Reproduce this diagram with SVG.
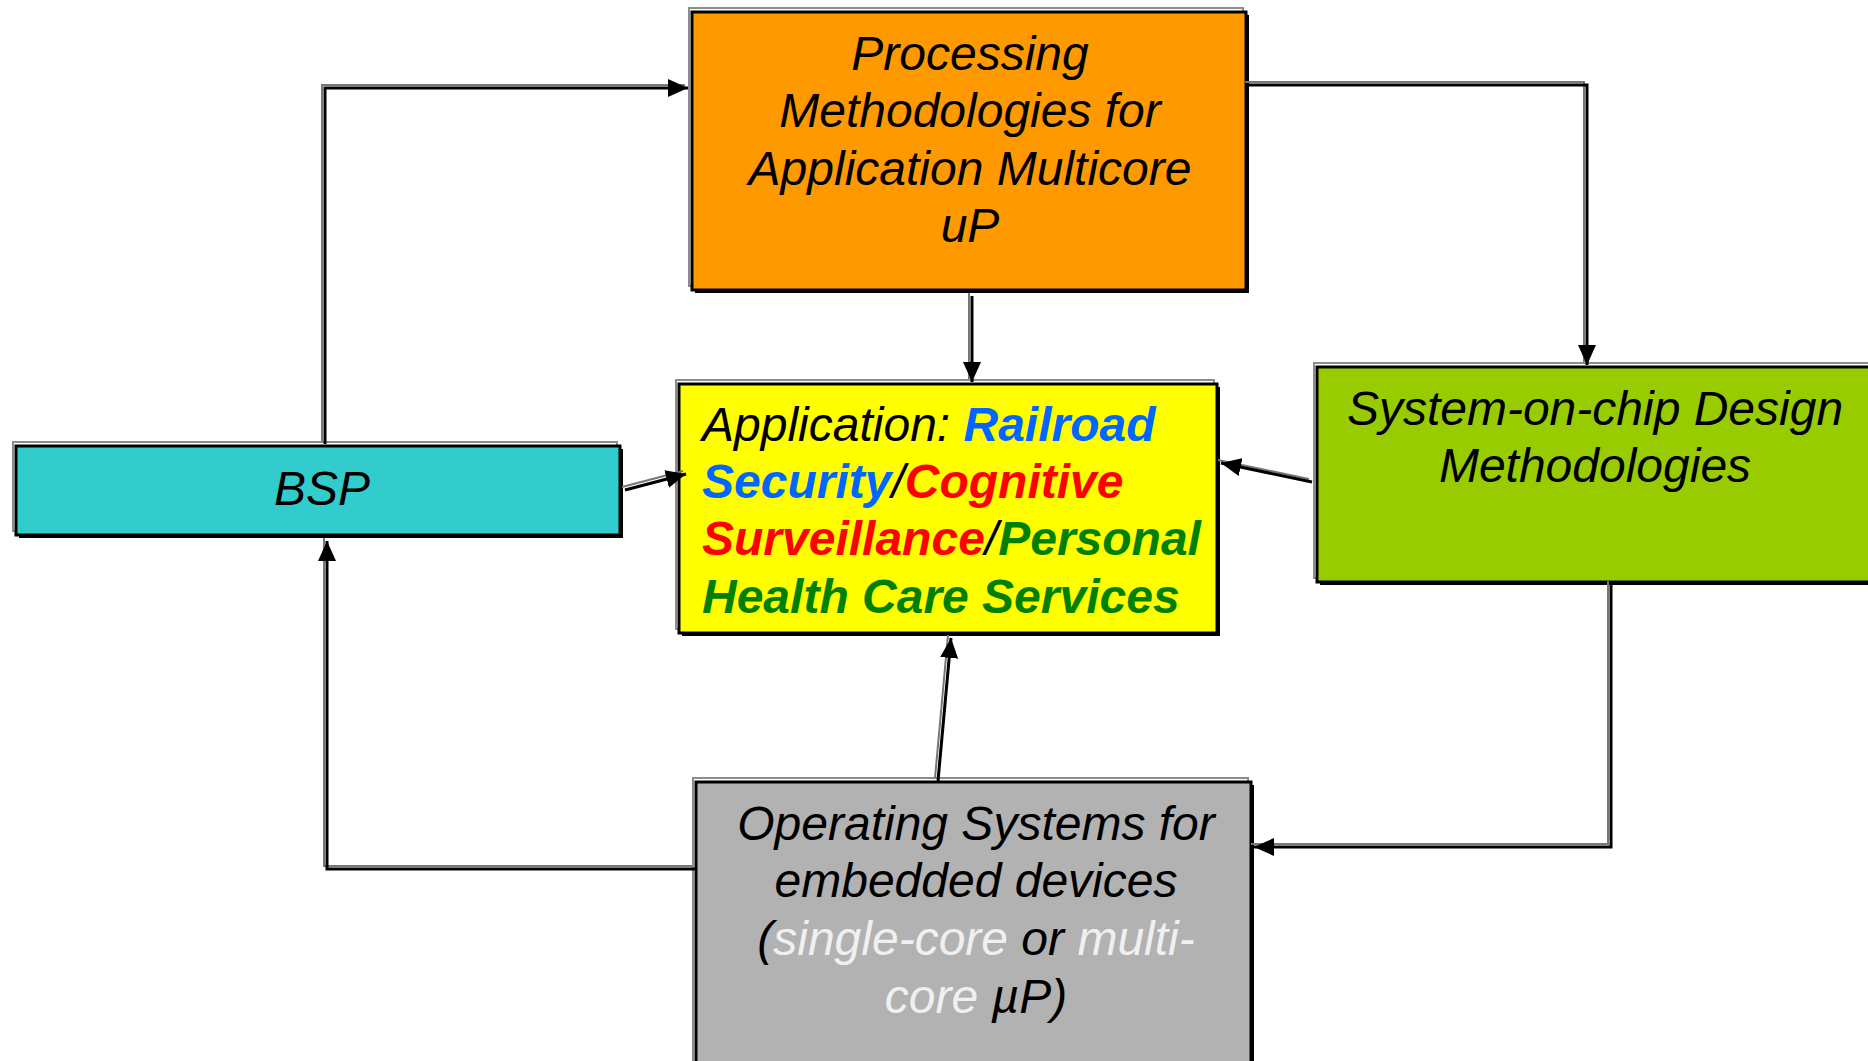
<svg xmlns="http://www.w3.org/2000/svg" xmlns:xlink="http://www.w3.org/1999/xlink" width="1868" height="1061" viewBox="0 0 1868 1061">
<style>
  .t { font-family: "Liberation Sans", Arial, sans-serif; font-size: 48px; font-style: italic; fill: #000; }
  .b { font-weight: bold; }
  .box { stroke: #000; stroke-width: 3; }
  .shadow { fill: #000; }
  .hl { fill: none; stroke: #8c8c8c; stroke-width: 2; }
  .wire { fill: none; stroke: #000; stroke-width: 3; }
  .wire2 { fill: none; stroke: #777; stroke-width: 2; }
  .blue { fill: #0066FF; }
  .red { fill: #FF0000; }
  .green { fill: #008000; }
  .light { fill: #F0F0F0; }
</style>
<defs>
  <marker id="ah" markerUnits="userSpaceOnUse" markerWidth="22" markerHeight="18" refX="20" refY="9" orient="auto">
    <path d="M0,0 L20,9 L0,18 Z" fill="#000"/>
  </marker>
  <path id="c1" d="M325,444 V88 H688"/>
  <path id="c2" d="M1248,85 H1587 V365"/>
  <path id="c3" d="M972,296 V382"/>
  <path id="c4" d="M1312,482 L1221,463"/>
  <path id="c5" d="M625,490 L686,474"/>
  <path id="c6" d="M938,781 L951,638"/>
  <path id="c7" d="M1611,584 V847 H1254"/>
  <path id="c8" d="M695,869 H327 V541"/>
</defs>
<rect width="1868" height="1061" fill="#fff"/>

<g id="processing">
  <rect class="hl" x="689" y="8" width="554" height="278"/>
  <rect class="shadow" x="695" y="15" width="554" height="278"/>
  <rect class="box" x="692" y="12" width="554" height="278" fill="#FF9900"/>
  <text class="t" text-anchor="middle" x="970" y="70">Processing</text>
  <text class="t" text-anchor="middle" x="970" y="127">Methodologies for</text>
  <text class="t" text-anchor="middle" x="970" y="185">Application Multicore</text>
  <text class="t" text-anchor="middle" x="970" y="242">uP</text>
</g>

<g id="application">
  <rect class="hl" x="676" y="380" width="538" height="249"/>
  <rect class="shadow" x="682" y="387" width="538" height="249"/>
  <rect class="box" x="679" y="384" width="538" height="249" fill="#FFFF00"/>
  <text class="t" x="702" y="441">Application: <tspan class="b blue">Railroad</tspan></text>
  <text class="t" x="702" y="498"><tspan class="b blue">Security</tspan>/<tspan class="b red">Cognitive</tspan></text>
  <text class="t" x="702" y="555"><tspan class="b red">Surveillance</tspan>/<tspan class="b green">Personal</tspan></text>
  <text class="t b green" x="702" y="613">Health Care Services</text>
</g>

<g id="bsp">
  <rect class="hl" x="13" y="442" width="604" height="89"/>
  <rect class="shadow" x="19" y="449" width="604" height="89"/>
  <rect class="box" x="16" y="446" width="604" height="89" fill="#33CCCC"/>
  <text class="t" text-anchor="middle" x="322" y="505">BSP</text>
</g>

<g id="soc">
  <rect class="hl" x="1314" y="363" width="570" height="215"/>
  <rect class="shadow" x="1320" y="370" width="570" height="215"/>
  <rect class="box" x="1317" y="367" width="570" height="215" fill="#99CC00"/>
  <text class="t" text-anchor="middle" x="1595" y="425">System-on-chip Design</text>
  <text class="t" text-anchor="middle" x="1595" y="482">Methodologies</text>
</g>

<g id="os">
  <rect class="hl" x="693" y="778" width="555" height="300"/>
  <rect class="shadow" x="699" y="785" width="555" height="300"/>
  <rect class="box" x="696" y="782" width="555" height="300" fill="#B2B2B2"/>
  <text class="t" text-anchor="middle" x="976" y="840">Operating Systems for</text>
  <text class="t" text-anchor="middle" x="976" y="897">embedded devices</text>
  <text class="t" text-anchor="middle" x="976" y="955">(<tspan class="light">single-core</tspan> or <tspan class="light">multi-</tspan></text>
  <text class="t" text-anchor="middle" x="976" y="1013"><tspan class="light">core</tspan> µP)</text>
</g>

<g id="connectors">
  <g transform="translate(-3,-3)">
    <use xlink:href="#c1" class="wire2"/>
    <use xlink:href="#c2" class="wire2"/>
    <use xlink:href="#c3" class="wire2"/>
    <use xlink:href="#c4" class="wire2"/>
    <use xlink:href="#c5" class="wire2"/>
    <use xlink:href="#c6" class="wire2"/>
    <use xlink:href="#c7" class="wire2"/>
    <use xlink:href="#c8" class="wire2"/>
  </g>
  <use xlink:href="#c1" class="wire" marker-end="url(#ah)"/>
  <use xlink:href="#c2" class="wire" marker-end="url(#ah)"/>
  <use xlink:href="#c3" class="wire" marker-end="url(#ah)"/>
  <use xlink:href="#c4" class="wire" marker-end="url(#ah)"/>
  <use xlink:href="#c5" class="wire" marker-end="url(#ah)"/>
  <use xlink:href="#c6" class="wire" marker-end="url(#ah)"/>
  <use xlink:href="#c7" class="wire" marker-end="url(#ah)"/>
  <use xlink:href="#c8" class="wire" marker-end="url(#ah)"/>
</g>
</svg>
